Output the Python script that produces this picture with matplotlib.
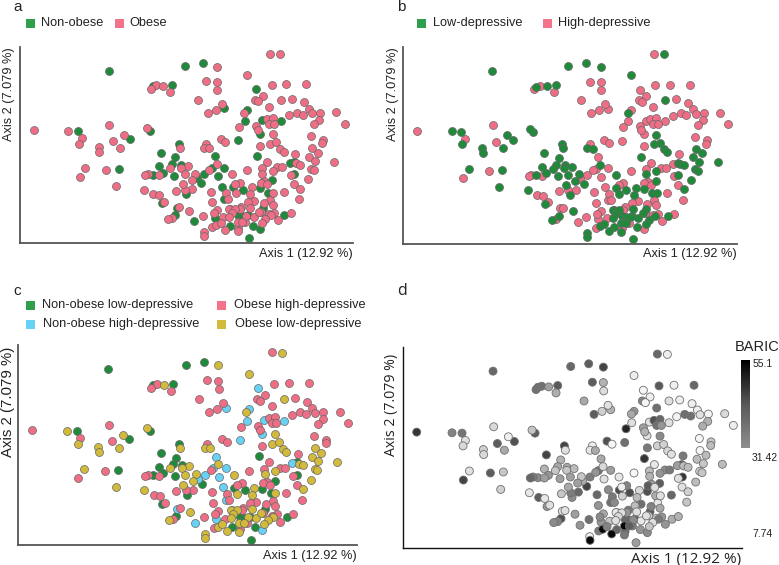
import numpy as np
import matplotlib
matplotlib.use("Agg")
import matplotlib.pyplot as plt
from matplotlib.colors import LinearSegmentedColormap
from matplotlib.patches import Rectangle

plt.rcParams["font.family"] = ["Liberation Sans", "DejaVu Sans"]

W, H = 779, 565

# digitised positions (same ordination in all four panels), y runs downwards
low_nonobese_x = [324,557,611,518,459,231,388,450,538,484,527,518,478,546,490,459,525,355,605,561,486,528,778,890,892,824,812,787,703,734,795,720,750,695,766,861,753,733]
low_nonobese_y = [268,254,246,311,316,453,478,453,491,518,533,553,560,555,579,586,589,569,612,645,672,708,529,547,584,603,640,627,623,631,688,710,710,741,741,710,780,713]
low_nonobese_baric = [40,40,42,43,38,37,44,42,46,46,24,26,24,26,30,32,28,20,46,32,30,44,48,42,48,42,25,44,45,45,42,40,45,40,30,25,28,40]

high_nonobese_x = [775,677,747,740,793,852,786,719,648,677,640,615,593,657,670,677,532,585,648,787,877,695]
high_nonobese_y = [325,383,388,422,420,422,461,481,530,564,565,584,596,590,622,660,686,728,718,750,550,690]
high_nonobese_baric = [8,24,30,14,14,14,14,38,26,28,38,35,25,14,32,38,12,30,30,32,28,14]

high_obese_x = [817,622,655,656,822,867,927,470,453,513,597,884,921,795,772,781,669,815,651,627,937,945,970,899,917,875,1019,968,953,1045,807,825,815,829,723,775,779,95,326,241,337,943,978,977,666,681,622,787,894,808,793,840,854,747,632,316,235,444,436,478,880,891,800,789,859,809,725,710,682,636,580,557,529,461,479,494,905,640,688,818,825,798,768,750,730,725,655,645,540,612,518,880,830,815,841,742,641,674,720,790]
high_obese_y = [217,301,302,327,312,310,310,313,323,333,357,354,365,345,357,362,370,378,388,397,384,398,396,397,402,404,395,418,432,430,415,412,430,430,440,437,449,450,434,475,484,469,479,490,477,486,491,497,521,547,566,563,563,572,570,572,593,584,587,587,588,614,606,610,638,615,610,614,643,637,629,631,634,645,648,668,659,669,660,662,677,672,665,670,683,690,694,703,684,711,717,702,703,707,725,730,745,716,747,700]
high_obese_baric = [40,42,24,15,43,10,40,38,38,25,26,10,10,10,34,8,14,38,18,42,10,14,8,38,38,8,16,24,25,10,44,40,38,30,50,28,24,48,16,14,42,8,20,22,44,8,10,36,36,12,22,32,36,8,30,42,46,36,40,28,14,14,28,42,40,14,34,10,36,40,40,35,20,42,12,14,20,30,32,12,26,34,38,22,36,30,26,32,14,38,34,24,30,14,30,36,36,20,40,12]

low_obese_x = [847,655,747,491,852,739,825,201,441,370,234,295,296,358,541,615,631,817,836,848,859,945,963,936,955,1012,654,567,545,511,896,909,944,951,825,794,253,556,589,702,578,550,347,433,932,909,826,763,712,756,570,506,755,693,710,700,692,768,784,820,803,793,614,615,653,666,680,718,718,745,733]
low_obese_y = [218,256,281,315,357,396,462,452,444,464,491,502,517,504,504,504,505,491,487,506,516,505,519,531,544,546,553,559,564,565,551,555,567,571,573,582,566,584,583,584,602,614,621,631,599,628,640,624,641,645,695,720,688,690,691,702,714,715,700,710,720,732,762,773,740,732,754,730,757,712,730]
low_obese_baric = [10,46,10,28,14,26,32,34,20,10,16,18,16,26,14,12,26,18,18,16,14,8,22,22,20,22,16,22,20,20,22,22,18,20,30,24,14,28,20,12,28,26,18,12,22,18,14,16,18,22,28,32,14,12,14,16,14,12,14,36,14,20,10,54,54,34,54,54,36,32,42]

baric_ticks = [55.1, 31.42, 7.74]

GREEN = "#1f8a3a"
PINK = "#f06e85"
BLUE = "#68d2f6"
OLIVE = "#d2ba3c"
EDGE = "#666666"

baric_cmap = LinearSegmentedColormap.from_list(
    "baric", [(0, "#f6f6f6"), (0.2, "#d4d4d4"), (0.5, "#8e8e8e"), (0.75, "#585858"), (1, "#000000")])


def new_axes(left, right, top, bottom, spine="#555555", lw=1.3):
    ax = fig.add_axes([left / W, 1 - bottom / H, (right - left) / W, (bottom - top) / H])
    ax.set_xlim(53, 1070)
    ax.set_ylim(795, 195)
    ax.set_xticks([])
    ax.set_yticks([])
    ax.patch.set_alpha(0)
    ax.spines[["top", "right"]].set_visible(False)
    ax.spines[["left", "bottom"]].set_color(spine)
    ax.spines[["left", "bottom"]].set_linewidth(lw)
    return ax


def dots(ax, x, y, color):
    ax.scatter(x, y, s=33, c=color, edgecolors=EDGE, linewidths=0.5, clip_on=False)


def label(x, y, s, size=9.2, **kw):
    kw.setdefault("va", "center")
    fig.text(x / W, 1 - y / H, s, fontsize=size, color="#222222", **kw)


def key(x, y, color):
    fig.add_artist(Rectangle(((x) / W, 1 - (y + 4.5) / H), 9 / W, 9 / H, color=color,
                             lw=0, transform=fig.transFigure))


fig = plt.figure(figsize=(W / 100, H / 100), dpi=100)

# a
ax = new_axes(20, 352.7, 46.7, 243.3)
dots(ax, low_nonobese_x + high_nonobese_x, low_nonobese_y + high_nonobese_y, GREEN)
dots(ax, high_obese_x + low_obese_x, high_obese_y + low_obese_y, PINK)
label(13, 7, "a", size=11, ha="left")
key(26, 23, "#2f9e4d"); label(41, 23, "Non-obese")
key(115, 23, "#f4728a"); label(129, 23, "Obese")
label(353, 254, "Axis 1 (12.92 %)", ha="right")
label(9, 94, "Axis 2 (7.079 %)", rotation=90, ha="center")

# b
ax = new_axes(403, 736.7, 46.7, 244.3)
dots(ax, high_nonobese_x + high_obese_x, high_nonobese_y + high_obese_y, PINK)
dots(ax, low_nonobese_x + low_obese_x, low_nonobese_y + low_obese_y, GREEN)
label(397, 7, "b", size=11, ha="left")
key(417, 23, "#2f9e4d"); label(433, 23, "Low-depressive")
key(543, 23, "#f4728a"); label(558, 23, "High-depressive")
label(737, 254, "Axis 1 (12.92 %)", ha="right")
label(393, 94, "Axis 2 (7.079 %)", rotation=90, ha="center")

# c
ax = new_axes(17.7, 356.7, 345, 545)
dots(ax, low_nonobese_x, low_nonobese_y, GREEN)
dots(ax, high_nonobese_x, high_nonobese_y, BLUE)
dots(ax, high_obese_x, high_obese_y, PINK)
dots(ax, low_obese_x, low_obese_y, OLIVE)
label(13, 291, "c", size=11, ha="left")
key(26, 305, "#2f9e4d"); label(42, 305, "Non-obese low-depressive")
key(26, 324, BLUE); label(43, 324, "Non-obese high-depressive")
key(217, 305, "#f4728a"); label(234, 305, "Obese high-depressive")
key(217, 324, OLIVE); label(235, 324, "Obese low-depressive")
label(357, 556, "Axis 1 (12.92 %)", ha="right")
label(8, 402, "Axis 2 (7.079 %)", rotation=90, ha="center", size=10.8)

# d
ax = new_axes(402.7, 741.7, 346.7, 547.7, spine="#111111", lw=1.0)
all_x = low_nonobese_x + high_nonobese_x + high_obese_x + low_obese_x
all_y = low_nonobese_y + high_nonobese_y + high_obese_y + low_obese_y
all_b = low_nonobese_baric + high_nonobese_baric + high_obese_baric + low_obese_baric
norm = plt.Normalize(baric_ticks[2], baric_ticks[0])
ax.scatter(all_x, all_y, s=33, c=all_b, cmap=baric_cmap, norm=norm, edgecolors="#707070",
           linewidths=0.6, clip_on=False)
label(397, 291, "d", size=11.5, ha="left", family="Open Sans")
label(741, 559, "Axis 1 (12.92 %)", ha="right", size=11, family="Open Sans")
label(392, 405, "Axis 2 (7.079 %)", rotation=90, ha="center", size=10.2, family="Open Sans")
label(735, 347, "BARIC", ha="left", size=10.5)

cax = fig.add_axes([741 / W, 1 - 448 / H, 9 / W, 88 / H])
grad = np.linspace(baric_ticks[0], baric_ticks[1], 100).reshape(-1, 1)
cax.imshow(grad, aspect="auto", cmap=baric_cmap, norm=norm)
cax.axis("off")
label(752.5, 364, str(baric_ticks[0]), size=7.5)
label(752, 458, str(baric_ticks[1]), size=7.5)
label(752, 534, str(baric_ticks[2]), size=7.5)

fig.savefig("out.png", dpi=100)
